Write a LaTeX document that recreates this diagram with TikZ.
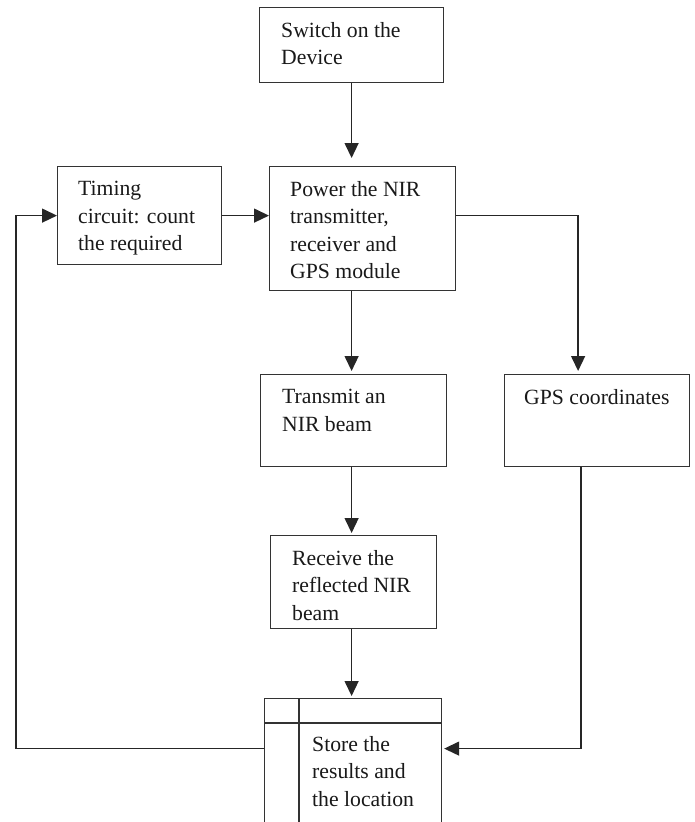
\documentclass[tikz,border=0pt]{standalone}
\usepackage{fontspec}
\setmainfont{Liberation Serif}
\usetikzlibrary{arrows.meta}
\begin{document}
\begin{tikzpicture}[x=1pt,y=-1pt,
    box/.style={draw=black!80, line width=1.2pt, rectangle, anchor=north west, inner sep=0pt},
    txt/.style={anchor=north west, align=left, inner sep=0pt, text=black!90, font=\fontsize{21.7}{27.5}\selectfont},
    link/.style={draw=black!85, line width=1.4pt, -{Triangle[length=15pt,width=14pt]}}]
    % Page size
    \useasboundingbox (0,0) rectangle (695,822);
    \clip (0,0) rectangle (695,822);
    % Boxes
    \node[box, minimum width=184pt, minimum height=75pt] (switch) at (259,7) {};
    \node[box, minimum width=164pt, minimum height=98pt] (timing) at (57,166) {};
    \node[box, minimum width=186pt, minimum height=124pt] (power) at (269,166) {};
    \node[box, minimum width=186pt, minimum height=92pt] (transmit) at (260,374) {};
    \node[box, minimum width=185pt, minimum height=92pt] (gps) at (504,374) {};
    \node[box, minimum width=166pt, minimum height=93pt] (receive) at (270,535) {};
    \node[box, minimum width=177pt, minimum height=132pt] (store) at (264,698) {};
    % Store box dividers
    \draw[black!80, line width=1.2pt] ([yshift=-25pt]store.north west) -- ([yshift=-25pt]store.north east);
    \draw[black!80, line width=1.2pt] ([xshift=35pt]store.north west) -- ([xshift=35pt]store.south west);
    % Texts
    \node[txt] (switchtxt) at ([shift={(22,15)}]switch.north west) {Switch on the\\Device};
    \node[txt] (timingtxt) at ([shift={(21,15)}]timing.north west) {Timing\\circuit: count\\the required};
    \node[txt] (powertxt) at ([shift={(21,15)}]power.north west) {Power the NIR\\transmitter,\\receiver and\\GPS module};
    \node[txt] (transmittxt) at ([shift={(22,15)}]transmit.north west) {Transmit an\\NIR beam};
    \node[txt] (gpstxt) at ([shift={(20,15)}]gps.north west) {GPS coordinates};
    \node[txt] (receivetxt) at ([shift={(22,15)}]receive.north west) {Receive the\\reflected NIR\\beam};
    \node[txt] (storetxt) at ([shift={(48,38)}]store.north west) {Store the\\results and\\the location};
    % Connectors
    \draw[link, shorten >=8pt] (switch.south) -- (switch.south |- power.north);
    \draw[link] (timing.east) -- (timing.east -| power.west);
    \draw[link, shorten >=3pt] (power.east |- timing.east) -| ([xshift=-19pt]gps.north);
    \draw[link, shorten >=3pt] (power.south -| switch.south) -- (switch.south |- transmit.north);
    \draw[link, shorten >=2pt] (transmit.south -| switch.south) -- (switch.south |- receive.north);
    \draw[link, shorten >=2pt] (receive.south -| switch.south) -- (switch.south |- store.north);
    \draw[link, shorten >=2pt] ([xshift=-16pt]gps.south) |- ([yshift=16pt]store.east);
    \draw[link] ([yshift=16pt]store.west) -- ++(-248,0) |- (timing.west);
\end{tikzpicture}
\end{document}
